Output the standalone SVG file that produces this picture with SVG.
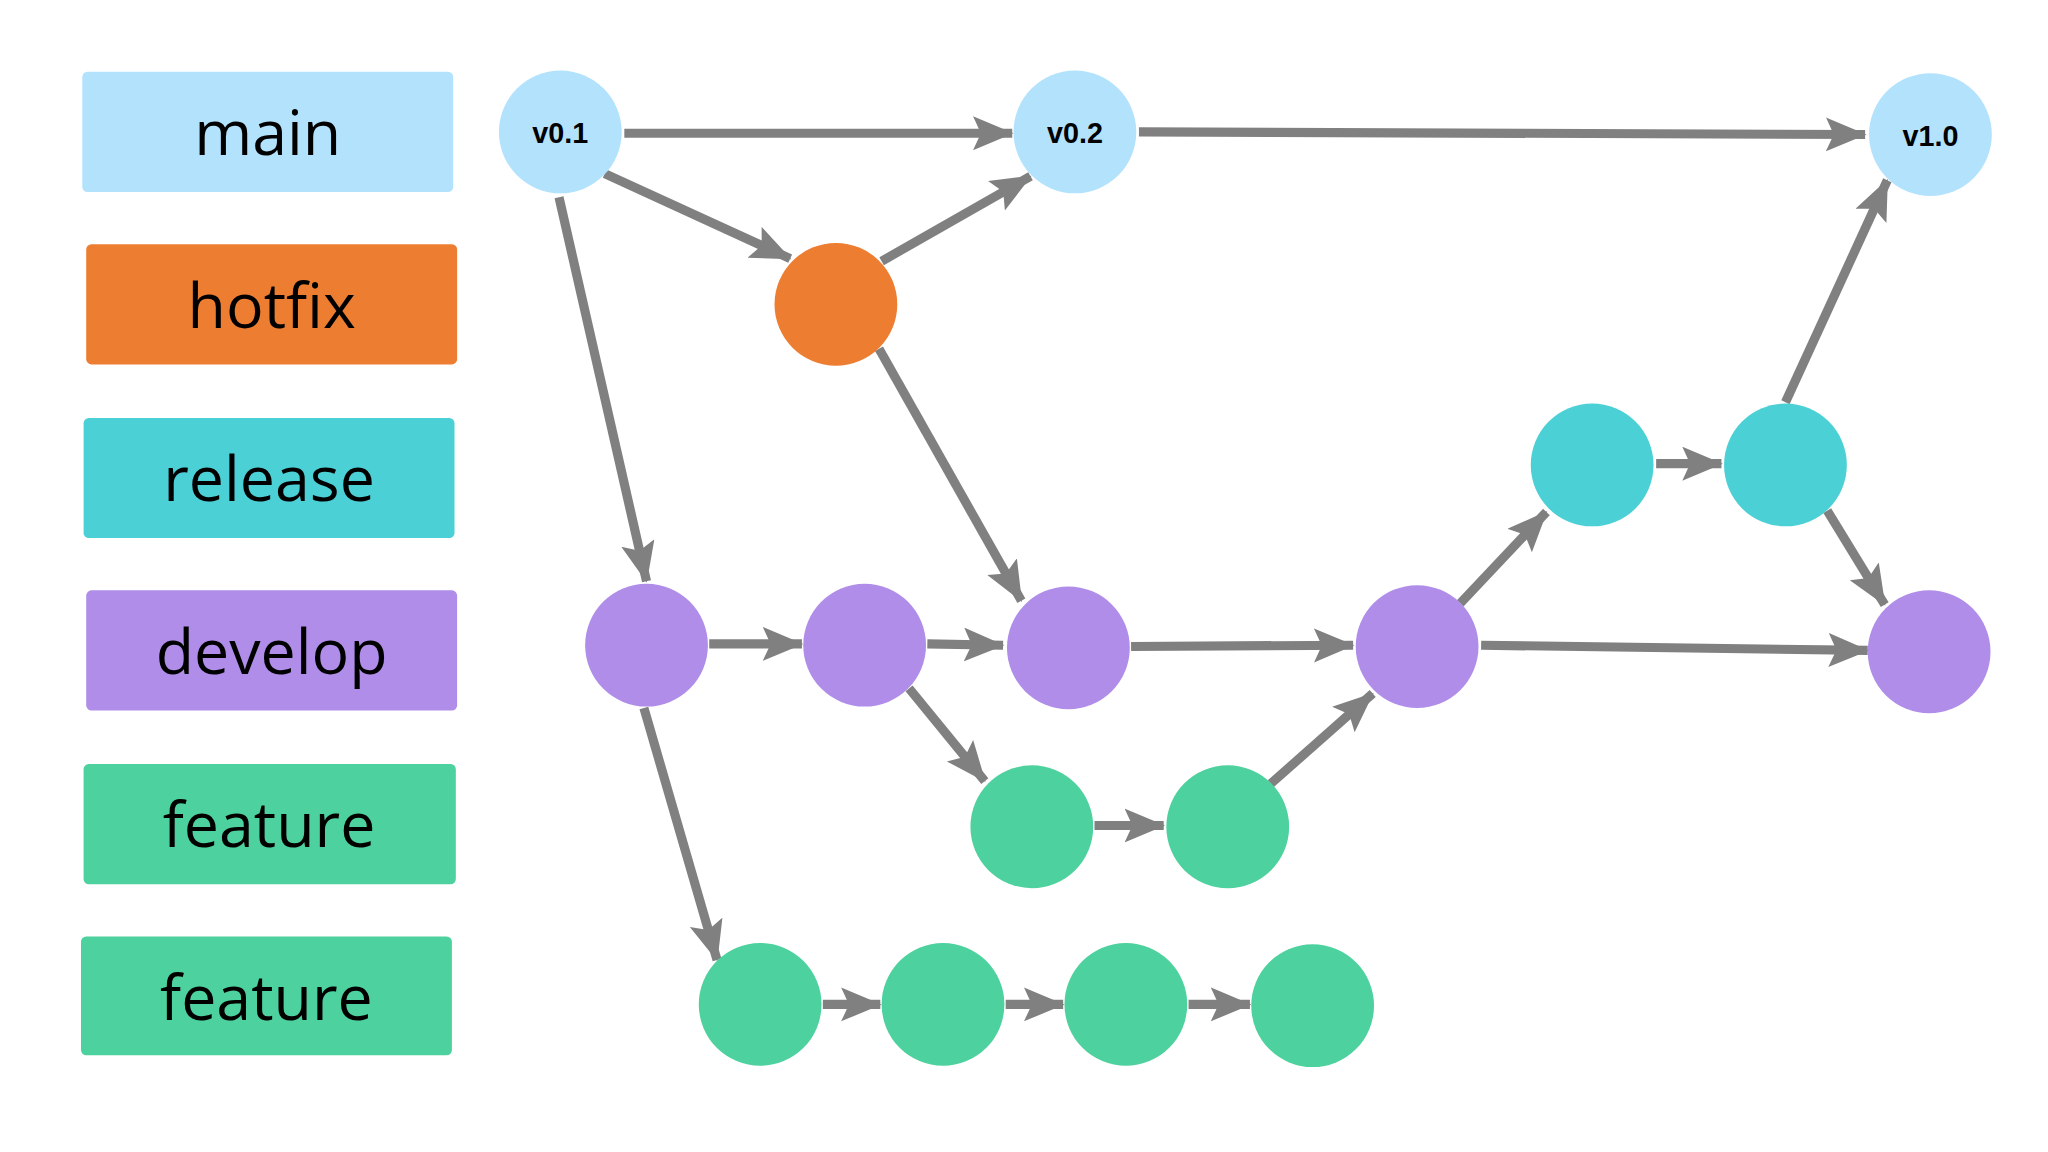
<svg xmlns="http://www.w3.org/2000/svg" width="2048" height="1152" viewBox="0 0 2048 1152">
<style>
.lbl{font-family:"Open Sans","Liberation Sans",sans-serif;font-size:48px;fill:#000;text-anchor:middle;dominant-baseline:central}
.ver{font-family:"Liberation Sans",sans-serif;font-size:22px;font-weight:bold;fill:#000;text-anchor:middle;dominant-baseline:central}
.e{stroke:#808080;stroke-width:7;fill:none;marker-end:url(#ah)}
.main{fill:#B3E2FD}.hot{fill:#ED7D31}.rel{fill:#4BD0D6}.dev{fill:#AF8DE8}.feat{fill:#4DD19E}
</style>
<defs>
<marker id="ah" markerUnits="userSpaceOnUse" markerWidth="34" markerHeight="28" refX="30" refY="13" orient="auto" viewBox="0 0 34 28">
<path d="M0,0 L31,13 L0,26 L6,13 Z" fill="#808080"/>
</marker>
</defs>
<rect width="2048" height="1152" fill="#fff"/>
<g transform="scale(1.3061)">
<g id="legend-main"><rect class="main" x="63" y="55" width="284" height="92" rx="4"/><text class="lbl" x="205" y="100">main</text></g>
<g id="legend-hotfix"><rect class="hot" x="66" y="187" width="284" height="92" rx="4"/><text class="lbl" x="208" y="232">hotfix</text></g>
<g id="legend-release"><rect class="rel" x="64" y="320" width="284" height="92" rx="4"/><text class="lbl" x="206" y="365">release</text></g>
<g id="legend-develop"><rect class="dev" x="66" y="452" width="284" height="92" rx="4"/><text class="lbl" x="208" y="497">develop</text></g>
<g id="legend-feature1"><rect class="feat" x="64" y="585" width="285" height="92" rx="4"/><text class="lbl" x="206" y="630">feature</text></g>
<g id="legend-feature2"><rect class="feat" x="62" y="717" width="284" height="91" rx="4"/><text class="lbl" x="204" y="762">feature</text></g>

<g id="connectors">
<line class="e" x1="478" y1="102" x2="775" y2="102"/>
<line class="e" x1="463" y1="133" x2="605" y2="198"/>
<line class="e" x1="675" y1="200" x2="789" y2="135"/>
<line class="e" x1="872" y1="101" x2="1428" y2="103"/>
<line class="e" x1="428" y1="151" x2="495" y2="445"/>
<line class="e" x1="673" y1="267" x2="782" y2="460"/>
<line class="e" x1="543" y1="493" x2="614" y2="493"/>
<line class="e" x1="710" y1="493" x2="768" y2="494"/>
<line class="e" x1="866" y1="495" x2="1036" y2="494"/>
<line class="e" x1="1118" y1="462" x2="1184" y2="392"/>
<line class="e" x1="1268" y1="355" x2="1318" y2="355"/>
<line class="e" x1="1367" y1="308" x2="1445" y2="138"/>
<line class="e" x1="1399" y1="391" x2="1443" y2="463"/>
<line class="e" x1="1134" y1="494" x2="1430" y2="498"/>
<line class="e" x1="696" y1="527" x2="754" y2="598"/>
<line class="e" x1="838" y1="632" x2="891" y2="632"/>
<line class="e" x1="973" y1="600" x2="1051" y2="531"/>
<line class="e" x1="493" y1="542" x2="549" y2="735"/>
<line class="e" x1="630" y1="769" x2="674" y2="769"/>
<line class="e" x1="770" y1="769" x2="814" y2="769"/>
<line class="e" x1="910" y1="769" x2="957" y2="769"/>
</g>

<g id="v01"><circle class="main" cx="429" cy="101" r="47"/><text class="ver" x="429" y="102">v0.1</text></g>
<g id="v02"><circle class="main" cx="823" cy="101" r="47"/><text class="ver" x="823" y="102">v0.2</text></g>
<g id="v10"><circle class="main" cx="1478" cy="103" r="47"/><text class="ver" x="1478" y="104">v1.0</text></g>
<g id="hotfix1"><circle class="hot" cx="640" cy="233" r="47"/></g>
<g id="release1"><circle class="rel" cx="1219" cy="356" r="47"/></g>
<g id="release2"><circle class="rel" cx="1367" cy="356" r="47"/></g>
<g id="develop1"><circle class="dev" cx="495" cy="494" r="47"/></g>
<g id="develop2"><circle class="dev" cx="662" cy="494" r="47"/></g>
<g id="develop3"><circle class="dev" cx="818" cy="496" r="47"/></g>
<g id="develop4"><circle class="dev" cx="1085" cy="495" r="47"/></g>
<g id="develop5"><circle class="dev" cx="1477" cy="499" r="47"/></g>
<g id="feature1a"><circle class="feat" cx="790" cy="633" r="47"/></g>
<g id="feature1b"><circle class="feat" cx="940" cy="633" r="47"/></g>
<g id="feature2a"><circle class="feat" cx="582" cy="769" r="47"/></g>
<g id="feature2b"><circle class="feat" cx="722" cy="769" r="47"/></g>
<g id="feature2c"><circle class="feat" cx="862" cy="769" r="47"/></g>
<g id="feature2d"><circle class="feat" cx="1005" cy="770" r="47"/></g>
</g>
</svg>
